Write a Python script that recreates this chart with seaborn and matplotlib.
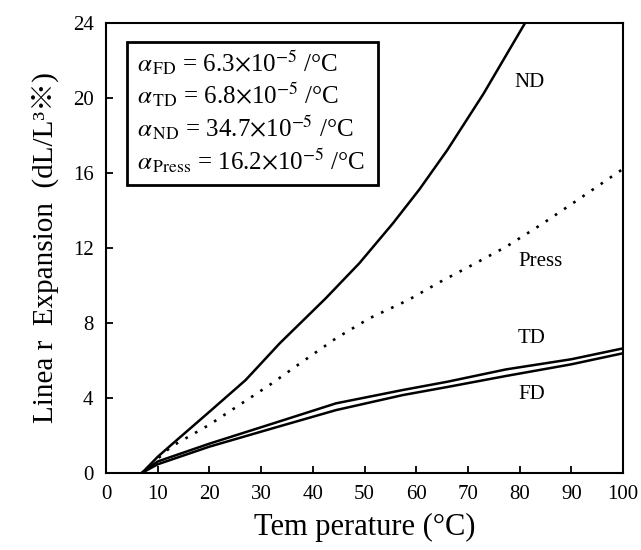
import matplotlib
matplotlib.use("Agg")
import matplotlib.pyplot as plt
import seaborn as sns
import pandas as pd
from matplotlib.patches import Rectangle

# ---- data ----
nd_t = [7, 10, 12.6, 20, 27, 33.6, 42.5, 49, 55.5, 60.6, 66, 73, 81.1]
nd_v = [0, 0.85, 1.48, 3.25, 4.94, 6.9, 9.3, 11.17, 13.3, 15.1, 17.2, 20.2, 24.0]

press_t = [7, 12.6, 20, 31.6, 38, 44.5, 51, 58.4, 64.6, 71, 77.4, 84, 90.3, 100]
press_v = [0, 1.39, 2.56, 4.67, 5.92, 7.17, 8.24, 9.2, 10.17, 11.1, 12.05, 13.2, 14.37, 16.2]

td_t = [7, 10, 20, 32, 44.5, 57.4, 66, 77.4, 90, 100]
td_v = [0, 0.6, 1.55, 2.6, 3.7, 4.41, 4.85, 5.51, 6.05, 6.63]

fd_t = [7, 10, 20, 32, 44.5, 57.4, 66, 77.4, 90, 100]
fd_v = [0, 0.45, 1.39, 2.35, 3.34, 4.14, 4.57, 5.16, 5.78, 6.37]

x_ticks = [0, 10, 20, 30, 40, 50, 60, 70, 80, 90, 100]
y_ticks = [0, 4, 8, 12, 16, 20, 24]

legend_lines = [
    r"$\alpha_{\,\mathrm{FD}}$ = 6.3$\times$10$^{-5}$ /°C",
    r"$\alpha_{\,\mathrm{TD}}$ = 6.8$\times$10$^{-5}$ /°C",
    r"$\alpha_{\,\mathrm{ND}}$ = 34.7$\times$10$^{-5}$ /°C",
    r"$\alpha_{\,\mathrm{Press}}$ = 16.2$\times$10$^{-5}$ /°C",
]
curve_labels = ["ND", "Press", "TD", "FD"]
curve_label_pos = [(82, 20.8), (84, 11.25), (82.4, 7.17), (82.4, 4.18)]

# ---- style ----
sns.set_style("ticks")
plt.rcParams["font.family"] = ["Liberation Serif", "DejaVu Serif"]
plt.rcParams["mathtext.fontset"] = "stix"
plt.rcParams["text.color"] = "black"
plt.rcParams["axes.labelcolor"] = "black"
plt.rcParams["xtick.color"] = "black"
plt.rcParams["ytick.color"] = "black"

fig = plt.figure(figsize=(6.41, 5.5), dpi=100)
ax = fig.add_axes([0.1654, 0.1405, 0.8066, 0.8185])

def frame(t, v):
    return pd.DataFrame({"T": t, "E": v})

sns.lineplot(data=frame(nd_t, nd_v), x="T", y="E", ax=ax, color="black", lw=1.8)
sns.lineplot(data=frame(press_t, press_v), x="T", y="E", ax=ax, color="black", lw=1.9,
             linestyle=(0, (1, 3.2)))
sns.lineplot(data=frame(td_t, td_v), x="T", y="E", ax=ax, color="black", lw=1.8)
sns.lineplot(data=frame(fd_t, fd_v), x="T", y="E", ax=ax, color="black", lw=1.8)

ax.set_xlim(0, 100)
ax.set_ylim(0, 24)
ax.set_xticks(x_ticks)
ax.set_yticks(y_ticks)
ax.set_xticklabels([str(v) for v in x_ticks])
ax.set_yticklabels([str(v) for v in y_ticks])
ax.tick_params(axis="both", direction="in", length=5, width=1.3, labelsize=15,
               top=False, right=False, colors="black")
ax.tick_params(axis="x", pad=9)
ax.tick_params(axis="y", pad=9)
for s in ax.spines.values():
    s.set_visible(True)
    s.set_linewidth(1.5)
    s.set_color("black")

ax.set_xlabel("Tem perature (°C)", fontsize=22, labelpad=6, color="black")
ax.set_ylabel("Linea r  Expansion  (dL/L³※)", fontsize=21, labelpad=10, color="black",
              fontfamily=["Liberation Serif", "Noto Sans CJK JP"])

# legend-like box with coefficients
ax.add_patch(Rectangle((0.0397, 0.639), 0.4873, 0.318, transform=ax.transAxes,
                       fill=False, lw=2.0, ec="black", zorder=5))
ys = [0.912, 0.839, 0.766, 0.693]
for txt, yy in zip(legend_lines, ys):
    ax.text(0.059, yy, txt, transform=ax.transAxes, fontsize=18, va="center",
            ha="left", color="black")

for lab, (xx, yy) in zip(curve_labels, curve_label_pos):
    ax.text(xx, yy, lab, fontsize=15, ha="center", va="center", color="black")

fig.savefig("out.png", dpi=100)
